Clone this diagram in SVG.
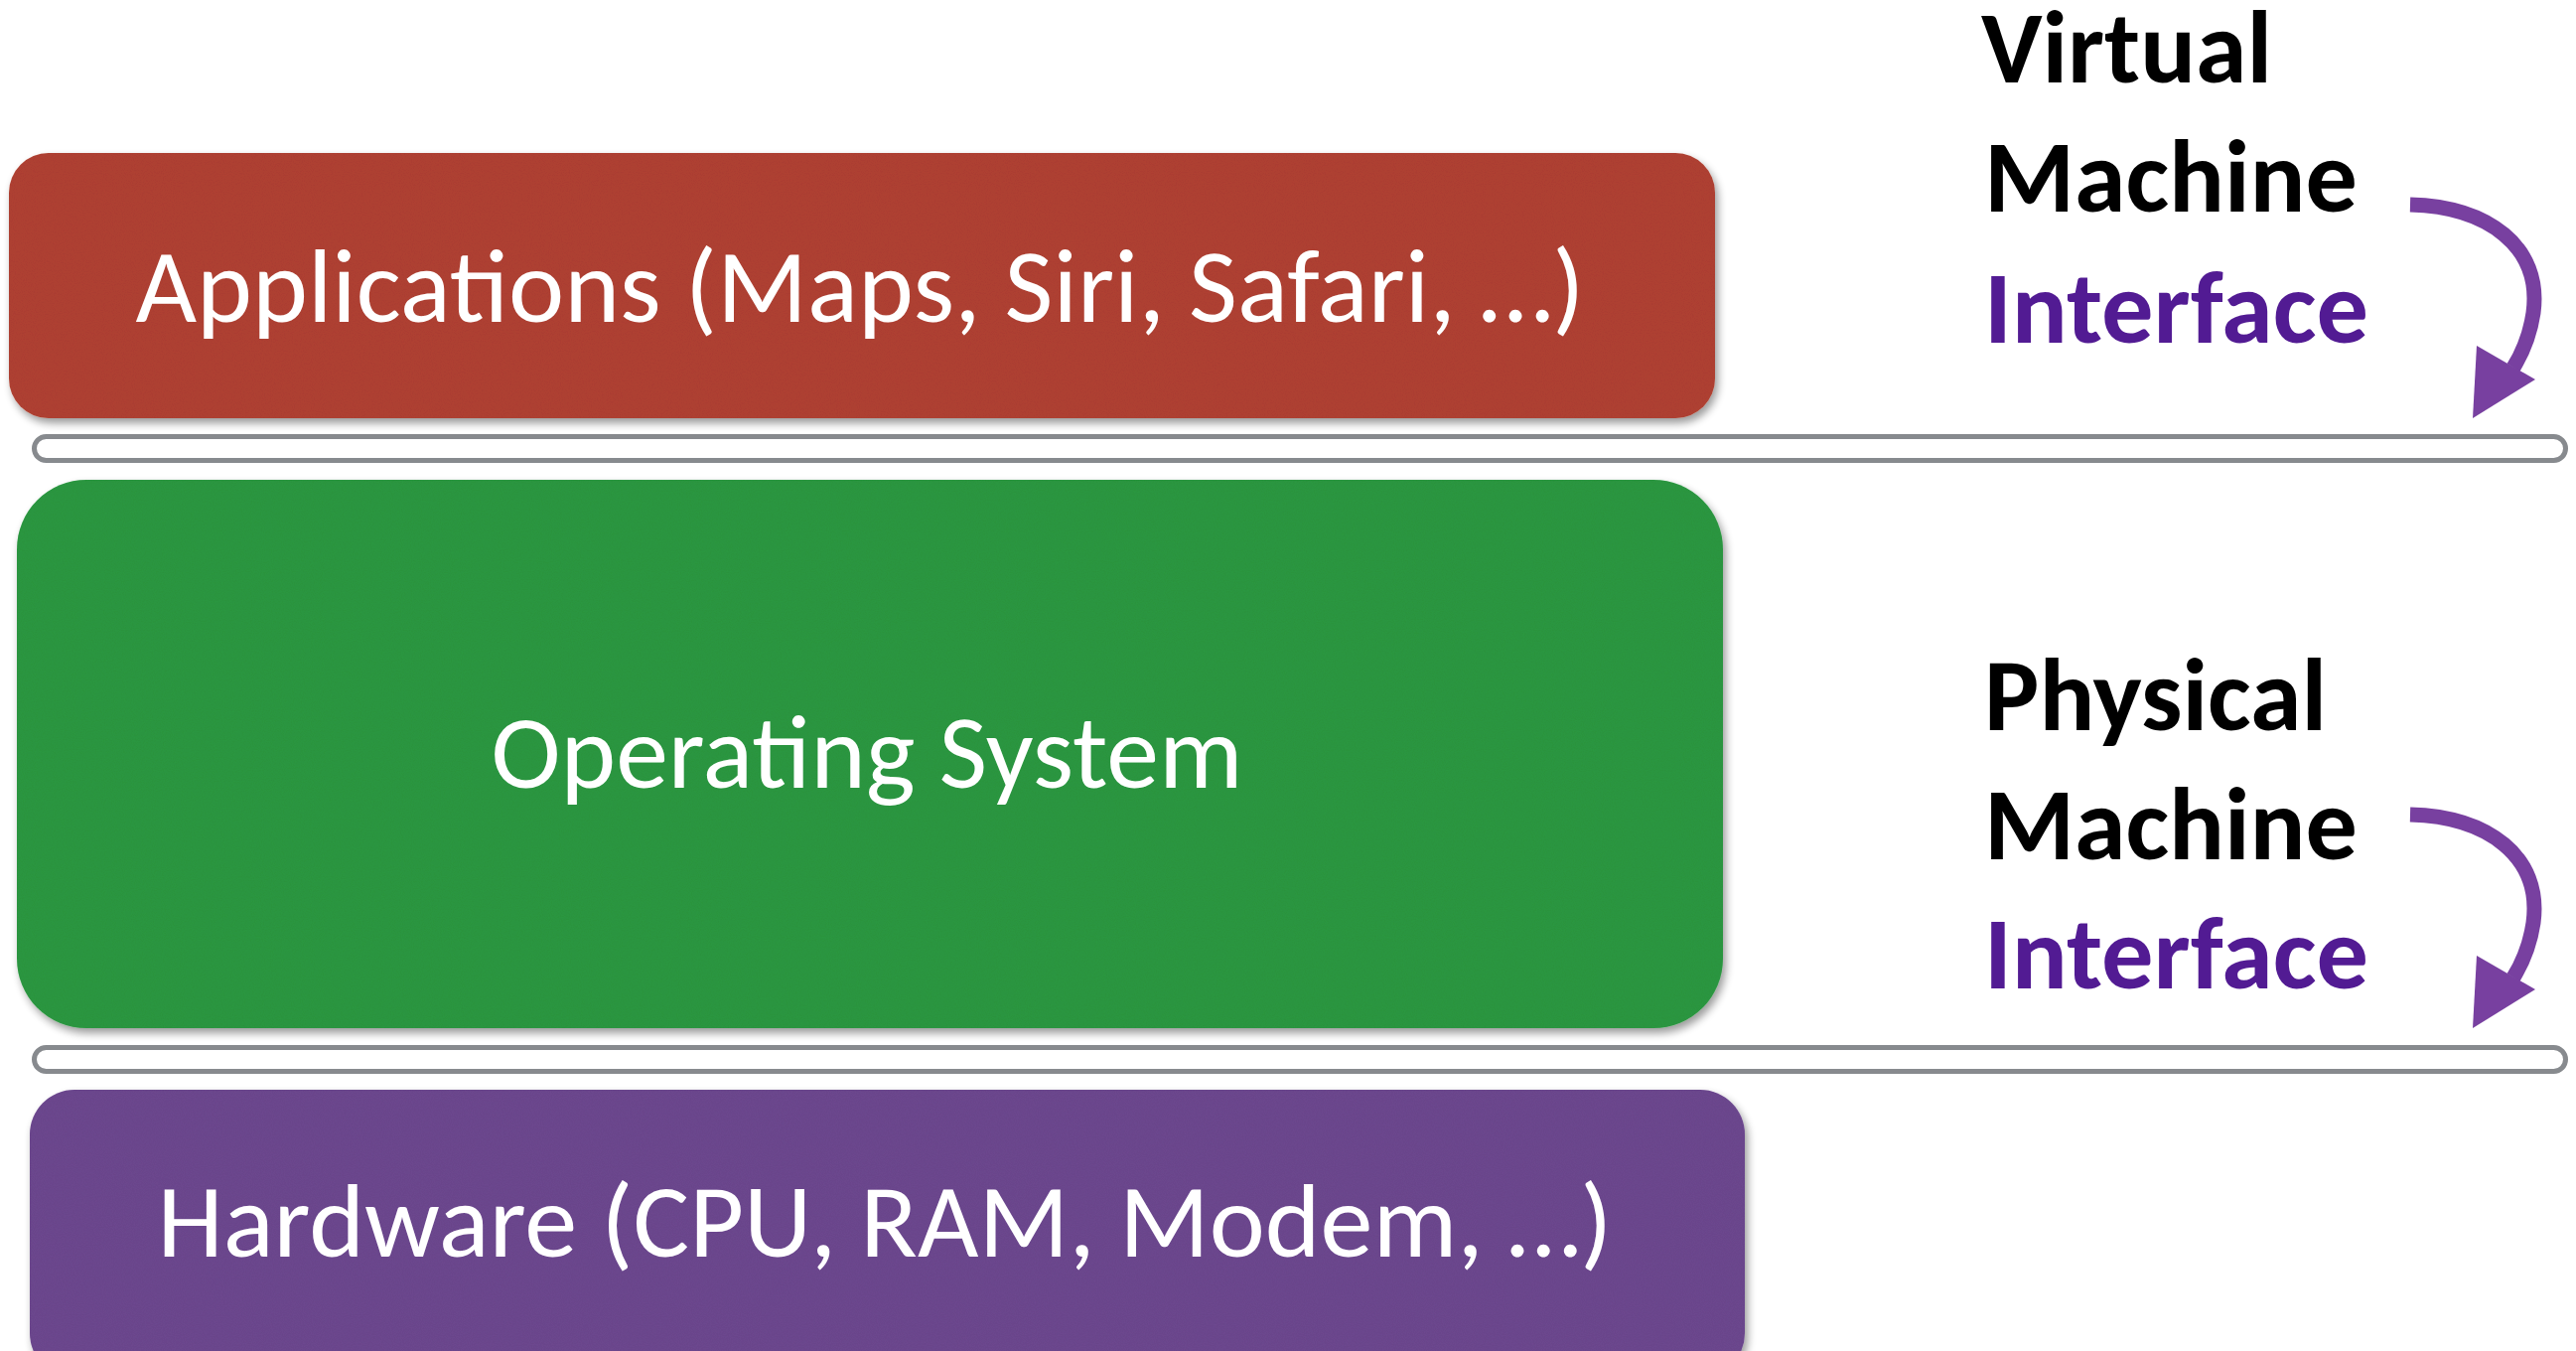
<svg xmlns="http://www.w3.org/2000/svg" width="2594" height="1360" viewBox="0 0 2594 1360">
<style>
.main{font-family:"Carlito","Open Sans","Liberation Sans",sans-serif;font-size:104px;fill:#ffffff;text-anchor:middle}
.lbl{font-family:"Carlito","Open Sans","Liberation Sans",sans-serif;font-size:104px;font-weight:bold;fill:#000000}
.ifc{fill:#521b93}
.bar{fill:#ffffff;stroke:#878a8e;stroke-width:5}
.arr{fill:none;stroke:#7840a0;stroke-width:15}
.head{fill:#7840a0}
</style>
<defs>
<filter id="card" x="-3%" y="-6%" width="106%" height="118%">
<feGaussianBlur in="SourceAlpha" stdDeviation="4"/>
<feOffset dx="3" dy="5" result="b"/>
<feComponentTransfer in="b" result="sh"><feFuncA type="linear" slope="0.4"/></feComponentTransfer>
<feTurbulence type="fractalNoise" baseFrequency="0.9" numOctaves="2" seed="3" result="n"/>
<feColorMatrix in="n" type="matrix" values="0 0 0 0 0  0 0 0 0 0  0 0 0 0 0  0 0 0 0.12 0" result="na"/>
<feComposite in="na" in2="SourceGraphic" operator="in" result="tex"/>
<feMerge><feMergeNode in="sh"/><feMergeNode in="SourceGraphic"/><feMergeNode in="tex"/></feMerge>
</filter>
<g id="curvedArrow">
<path class="arr" d="M2427,206 C2505,208 2560,248 2551,315 C2548,335 2542,352 2531,370"/>
<polygon class="head" points="2494,348 2553,382 2490,421"/>
</g>
</defs>
<rect width="2594" height="1360" fill="#ffffff"/>

<g id="applications">
<rect x="9" y="154" width="1718" height="267" rx="40" fill="#b24334" filter="url(#card)"/>
<text class="main" x="866" y="324" textLength="1459" lengthAdjust="spacingAndGlyphs">Applications (Maps, Siri, Safari, …)</text>
</g>

<g id="vm-interface-bar">
<rect class="bar" x="34.5" y="439.5" width="2549" height="24" rx="12"/>
</g>

<g id="operating-system">
<rect x="17" y="483" width="1718" height="552" rx="70" fill="#2e9a42" filter="url(#card)"/>
<text class="main" x="873" y="793" textLength="757" lengthAdjust="spacingAndGlyphs">Operating System</text>
</g>

<g id="pm-interface-bar">
<rect class="bar" x="34.5" y="1054.5" width="2549" height="24" rx="12"/>
</g>

<g id="hardware">
<rect x="30" y="1097" width="1727" height="290" rx="45" fill="#6e4891" filter="url(#card)"/>
<text class="main" x="891" y="1265" textLength="1465" lengthAdjust="spacingAndGlyphs">Hardware (CPU, RAM, Modem, …)</text>
</g>

<g id="vm-label">
<text class="lbl" x="1995" y="83" textLength="293" lengthAdjust="spacingAndGlyphs">Virtual</text>
<text class="lbl" x="1998" y="213" textLength="376" lengthAdjust="spacingAndGlyphs">Machine</text>
<text class="lbl ifc" x="1998" y="345" textLength="387" lengthAdjust="spacingAndGlyphs">Interface</text>
</g>

<g id="pm-label">
<text class="lbl" x="1998" y="735" textLength="345" lengthAdjust="spacingAndGlyphs">Physical</text>
<text class="lbl" x="1998" y="865" textLength="376" lengthAdjust="spacingAndGlyphs">Machine</text>
<text class="lbl ifc" x="1998" y="995" textLength="387" lengthAdjust="spacingAndGlyphs">Interface</text>
</g>

<g id="connectors">
<use href="#curvedArrow"/>
<use href="#curvedArrow" transform="translate(0,614)"/>
</g>
</svg>
